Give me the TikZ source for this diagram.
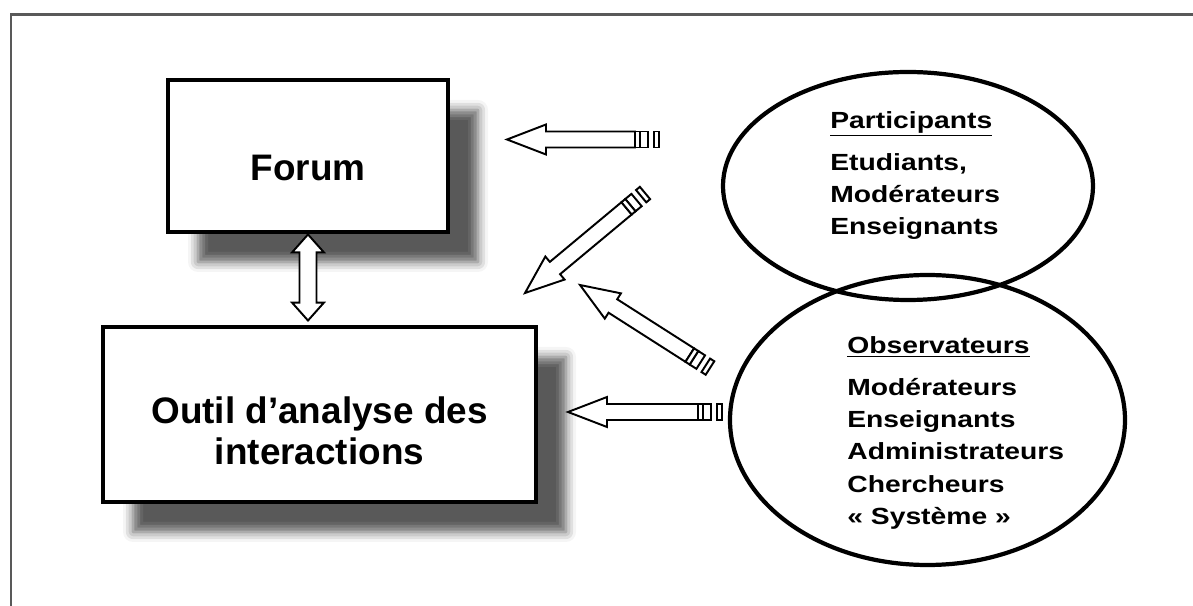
\documentclass[tikz,border=0pt]{standalone}
\usepackage{fontspec}
\setmainfont{Liberation Sans}
\newfontfamily\widesans[FakeStretch=1.21]{Liberation Sans}
\usetikzlibrary{calc,shapes.geometric,shadows.blur}

\tikzset{
    frame/.style={draw=black!65, line width=1.2pt},
    box/.style={draw, line width=2.8pt, fill=white,
        blur shadow={shadow xshift=0.6cm, shadow yshift=-0.6cm,
            shadow blur radius=0.2cm, shadow opacity=65}},
    boxtext/.style={font=\bfseries\fontsize{21}{23.3}\selectfont, align=center},
    group/.style={ellipse, draw, line width=2.4pt},
    grouptext/.style={font=\widesans\bfseries\fontsize{13.3}{18.4}\selectfont,
        align=left, inner sep=0pt, anchor=north west},
    blockarrow/.style={draw, line width=1.1pt, fill=white, line join=miter},
}

% hollow arrow with a striped tail, from #1 (tail) to #2 (tip)
\newcommand\stripedarrow[2]{%
    \draw[blockarrow]
        ($(#1)!4.8mm!(#2)!1.6mm!90:(#2)$) --
        ($(#2)!7.8mm!(#1)!1.6mm!90:(#2)$) --
        ($(#2)!7.8mm!(#1)!3mm!90:(#2)$) -- (#2) --
        ($(#2)!7.8mm!(#1)!3mm!-90:(#2)$) --
        ($(#2)!7.8mm!(#1)!1.6mm!-90:(#2)$) --
        ($(#1)!4.8mm!(#2)!1.6mm!-90:(#2)$) -- cycle;
    \foreach \a/\b in {0/1,2.2/3.8,3.8/4.8}
        \draw[blockarrow]
            ($(#1)!\a mm!(#2)!1.6mm!90:(#2)$) -- ($(#1)!\b mm!(#2)!1.6mm!90:(#2)$) --
            ($(#1)!\b mm!(#2)!1.6mm!-90:(#2)$) -- ($(#1)!\a mm!(#2)!1.6mm!-90:(#2)$) -- cycle;
}

\begin{document}
\begin{tikzpicture}
    \useasboundingbox (0,0) rectangle (23.86,12.12);
    \draw[frame] (0.22,0) -- (0.22,11.83) -- (23.86,11.83);

    \node[box, minimum width=5.6cm, minimum height=3.04cm] (forum) at (6.16,9.0) {};
    \node[boxtext] (forumtxt) at (6.16,8.76) {Forum};

    \node[box, minimum width=8.66cm, minimum height=3.5cm] (outil) at (6.39,3.83) {};
    \node[boxtext] (outiltxt) at (6.39,3.5) {Outil d’analyse des\\interactions};

    \node[group, minimum width=7.4cm, minimum height=4.56cm] (part) at (18.16,8.4) {};
    \node[group, minimum width=7.9cm, minimum height=5.8cm] (obs) at (18.55,3.72) {};

    \node[grouptext] (parttxt) at (16.6,9.9)
        {\underline{Participants}\\[5.5pt] Etudiants,\\ Modérateurs\\ Enseignants};
    \node[grouptext] (obstxt) at (16.94,5.4)
        {\underline{Observateurs}\\[5.5pt] Modérateurs\\ Enseignants\\ Administrateurs\\ Chercheurs\\ « Système »};

    % arrows
    \coordinate (t1) at (13.18,9.33); \coordinate (h1) at (10.14,9.33);
    \coordinate (t2) at (12.9,8.26);  \coordinate (h2) at (10.5,6.26);
    \coordinate (t3) at (14.2,4.76);  \coordinate (h3) at (11.6,6.42);
    \coordinate (t4) at (14.44,3.88); \coordinate (h4) at (11.36,3.88);
    \stripedarrow{t1}{h1}
    \stripedarrow{t2}{h2}
    \stripedarrow{t3}{h3}
    \stripedarrow{t4}{h4}

    \coordinate (d1) at (forum.south);
    \coordinate (d2) at ($(forum.south |- outil.north)+(0,0.08)$);
    \draw[blockarrow] (d1) --
        ($(d1)!3.6mm!(d2)!3.2mm!90:(d2)$) -- ($(d1)!3.6mm!(d2)!1.7mm!90:(d2)$) --
        ($(d2)!3.6mm!(d1)!1.7mm!-90:(d1)$) -- ($(d2)!3.6mm!(d1)!3.2mm!-90:(d1)$) -- (d2) --
        ($(d2)!3.6mm!(d1)!3.2mm!90:(d1)$) -- ($(d2)!3.6mm!(d1)!1.7mm!90:(d1)$) --
        ($(d1)!3.6mm!(d2)!1.7mm!-90:(d2)$) -- ($(d1)!3.6mm!(d2)!3.2mm!-90:(d2)$) -- cycle;
\end{tikzpicture}
\end{document}
